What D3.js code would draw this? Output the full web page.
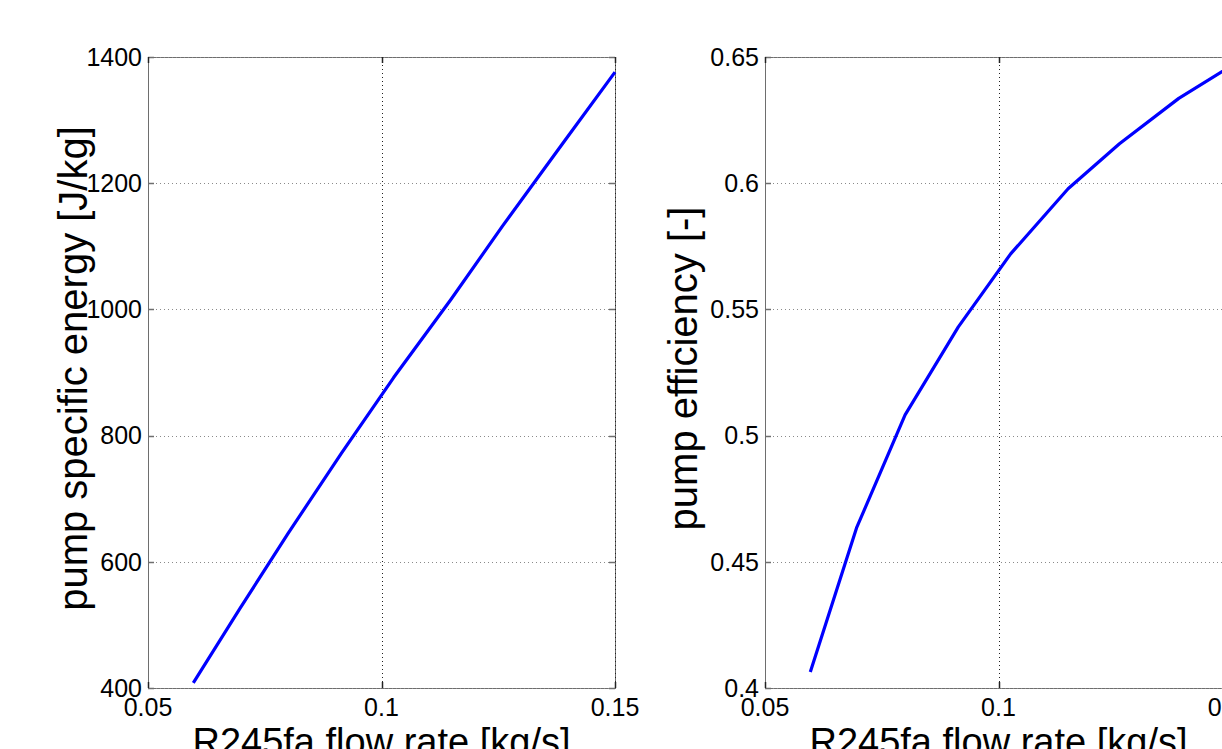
<!DOCTYPE html>
<html>
<head>
<meta charset="utf-8">
<script src="https://cdn.jsdelivr.net/npm/d3@7"></script>
<style>
  html, body { margin: 0; padding: 0; background: #fff; }
  svg { display: block; }
  text { font-family: Arial, "Liberation Sans", Helvetica, sans-serif; fill: #000; }
</style>
</head>
<body>
<svg id="chart" width="1222" height="749"></svg>
<script>
// ---- data ----
const flowRate = [0.0597, 0.0696, 0.0800, 0.0914, 0.1026, 0.1149, 0.1259, 0.1386, 0.1500];
const specificEnergy = [408, 525, 645, 772, 892, 1016, 1132, 1261, 1376];
const efficiency = [0.4063, 0.4634, 0.5082, 0.5431, 0.5720, 0.5978, 0.6156, 0.6336, 0.6467];

const xTicks = [0.05, 0.1, 0.15];
const xTickLabels = ["0.05", "0.1", "0.15"];
const energyTicks = [400, 600, 800, 1000, 1200, 1400];
const energyTickLabels = ["400", "600", "800", "1000", "1200", "1400"];
const effTicks = [0.4, 0.45, 0.5, 0.55, 0.6, 0.65];
const effTickLabels = ["0.4", "0.45", "0.5", "0.55", "0.6", "0.65"];

const xLabel = "R245fa flow rate [kg/s]";
const energyLabel = "pump specific energy [J/kg]";
const effLabel = "pump efficiency [-]";

// ---- layout ----
const svg = d3.select("#chart");
svg.append("rect").attr("width", 1222).attr("height", 749).attr("fill", "#fff");

const plotTop = 57, plotBottom = 688, plotW = 467;
const panels = [
  { left: 148, yDomain: [400, 1400], yTicks: energyTicks, yTickLabels: energyTickLabels,
    values: specificEnergy, ylabel: energyLabel, ylabelX: 87 },
  { left: 765, yDomain: [0.4, 0.65], yTicks: effTicks, yTickLabels: effTickLabels,
    values: efficiency, ylabel: effLabel, ylabelX: 697 }
];

const tickLen = 6;

panels.forEach(p => {
  const x = d3.scaleLinear().domain([0.05, 0.15]).range([p.left, p.left + plotW]);
  const y = d3.scaleLinear().domain(p.yDomain).range([plotBottom, plotTop]);
  const g = svg.append("g");

  // box
  g.append("rect")
    .attr("x", p.left + 0.5).attr("y", plotTop + 0.5)
    .attr("width", plotW).attr("height", plotBottom - plotTop)
    .attr("fill", "none").attr("stroke", "#6e6e6e").attr("stroke-width", 1);

  // horizontal grid (dotted grey)
  g.selectAll(".hgrid").data(p.yTicks).enter().append("line")
    .attr("x1", p.left).attr("x2", p.left + plotW)
    .attr("y1", d => Math.round(y(d)) + 0.5).attr("y2", d => Math.round(y(d)) + 0.5)
    .attr("stroke", "#8a8a8a").attr("stroke-width", 1).attr("stroke-dasharray", "1,3");

  // vertical grid (dotted darker)
  g.selectAll(".vgrid").data(xTicks.slice(1)).enter().append("line")
    .attr("x1", d => Math.round(x(d)) + 0.5).attr("x2", d => Math.round(x(d)) + 0.5)
    .attr("y1", plotTop).attr("y2", plotBottom)
    .attr("stroke", "#222").attr("stroke-width", 1).attr("stroke-dasharray", "1,3");

  // ticks on all four sides (inward)
  p.yTicks.forEach(v => {
    const yy = Math.round(y(v)) + 0.5;
    g.append("line").attr("x1", p.left).attr("x2", p.left + tickLen)
      .attr("y1", yy).attr("y2", yy).attr("stroke", "#6e6e6e").attr("stroke-width", 1.5);
    g.append("line").attr("x1", p.left + plotW - tickLen).attr("x2", p.left + plotW)
      .attr("y1", yy).attr("y2", yy).attr("stroke", "#6e6e6e").attr("stroke-width", 1.5);
  });
  xTicks.forEach(v => {
    const xx = Math.round(x(v)) + 0.5;
    g.append("line").attr("x1", xx).attr("x2", xx)
      .attr("y1", plotBottom - tickLen).attr("y2", plotBottom).attr("stroke", "#222").attr("stroke-width", 1.5);
    g.append("line").attr("x1", xx).attr("x2", xx)
      .attr("y1", plotTop).attr("y2", plotTop + tickLen).attr("stroke", "#222").attr("stroke-width", 1.5);
  });

  // y tick labels
  g.selectAll(".ylab").data(p.yTicks).enter().append("text")
    .attr("x", p.left - 6).attr("y", d => y(d))
    .attr("dy", "0.35em").attr("text-anchor", "end")
    .attr("font-size", 25)
    .text((d, i) => p.yTickLabels[i]);

  // x tick labels
  g.selectAll(".xlab").data(xTicks).enter().append("text")
    .attr("x", d => x(d)).attr("y", plotBottom + 28)
    .attr("text-anchor", "middle")
    .attr("font-size", 25)
    .text((d, i) => xTickLabels[i]);

  // axis labels
  g.append("text")
    .attr("x", p.left + plotW / 2).attr("y", plotBottom + 67)
    .attr("text-anchor", "middle").attr("font-size", 38)
    .text(xLabel);
  g.append("text")
    .attr("transform", `translate(${p.ylabelX},${(plotTop + plotBottom) / 2 - 4}) rotate(-90)`)
    .attr("text-anchor", "middle").attr("font-size", 40)
    .text(p.ylabel);

  // data line
  const line = d3.line().x((d, i) => x(flowRate[i])).y(d => y(d));
  g.append("path").datum(p.values)
    .attr("d", line)
    .attr("fill", "none").attr("stroke", "#0000ff").attr("stroke-width", 3.2)
    .attr("stroke-linejoin", "round");
});
</script>
</body>
</html>
